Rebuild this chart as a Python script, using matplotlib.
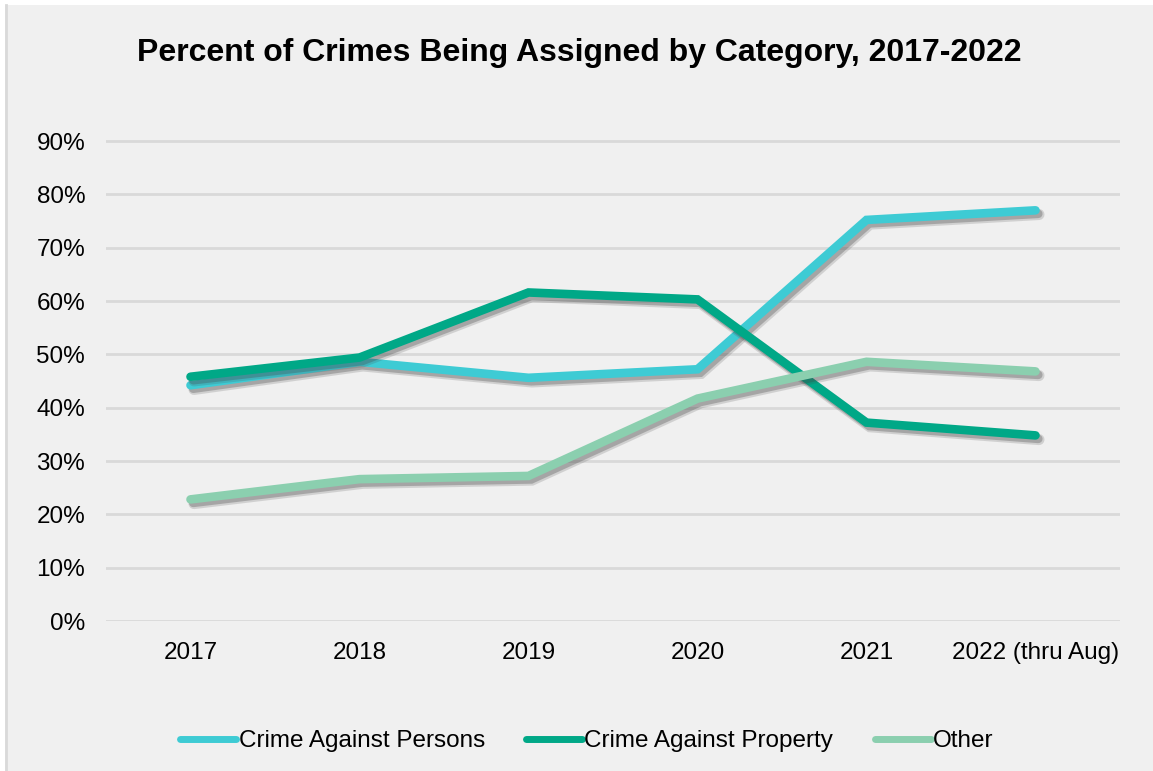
import matplotlib.pyplot as plt
import matplotlib.patheffects as pe
from matplotlib.patches import Rectangle
from matplotlib.ticker import FuncFormatter

plt.rcParams['font.family'] = ['Liberation Sans', 'DejaVu Sans']

years = ['2017', '2018', '2019', '2020', '2021', '2022 (thru Aug)']
persons = [44.2, 48.6, 45.6, 47.2, 75.2, 77.0]
property_ = [45.8, 49.4, 61.6, 60.3, 37.2, 34.8]
other = [22.8, 26.6, 27.2, 41.7, 48.6, 46.8]

series = [
    ('Crime Against Persons', persons, '#3ECBD4'),
    ('Crime Against Property', property_, '#00A887'),
    ('Other', other, '#8BCFAF'),
]

bg = '#F0F0F0'
fig = plt.figure(figsize=(11.53, 7.71), dpi=100, facecolor='white')

# gray panel behind everything, white strip on top and a thin left edge
panel = Rectangle((5 / 1153, 0), 1 - 5 / 1153, 1 - 5 / 771, transform=fig.transFigure,
                  facecolor=bg, edgecolor='none', zorder=-10)
fig.patches.append(panel)
fig.add_artist(plt.Line2D([6 / 1153, 6 / 1153], [0, 1 - 5 / 771], transform=fig.transFigure,
                          color='#D9D9D9', lw=2, zorder=-5))

ax = fig.add_axes([106 / 1153, 1 - 621 / 771, (1120 - 106) / 1153, (621 - 141) / 771 * 10 / 9])
ax.set_facecolor(bg)

x = list(range(len(years)))
# soft drop shadow: a couple of offset layers under each line
shadow = [pe.SimpleLineShadow(offset=(2.5, -3), shadow_color='#444444', alpha=0.18, linewidth=8),
          pe.SimpleLineShadow(offset=(2, -2.5), shadow_color='#444444', alpha=0.3),
          pe.Normal()]
for name, vals, color in series:
    ax.plot(x, vals, color=color, lw=6.2, solid_capstyle='round', solid_joinstyle='miter',
            label=name, path_effects=shadow)

ax.set_xlim(-0.5, 5.5)
ax.set_ylim(0, 100)
ax.set_yticks(range(0, 100, 10))
ax.yaxis.set_major_formatter(FuncFormatter(lambda v, p: f'{int(v)}%'))
ax.set_xticks(x)
ax.set_xticklabels(years)
ax.tick_params(axis='both', length=0, labelsize=17.5, colors='black')
ax.tick_params(axis='y', pad=15)
ax.tick_params(axis='x', pad=15)
ax.grid(axis='y', color='#D9D9D9', lw=2)
ax.set_axisbelow(True)
for s in ax.spines.values():
    s.set_visible(False)

fig.text(0.502, 1 - 53 / 771, 'Percent of Crimes Being Assigned by Category, 2017-2022',
         ha='center', va='center', fontsize=23, fontweight='bold')

leg = fig.legend(loc='center', bbox_to_anchor=(0.509, 1 - 741 / 771), ncol=3, frameon=False,
                 fontsize=17.5, handlelength=2.3, handletextpad=0.1, columnspacing=1.7)
for line in leg.get_lines():
    line.set_linewidth(5)
    line.set_solid_capstyle('round')
    line.set_path_effects([])

fig.savefig('out.png', dpi=100, facecolor=fig.get_facecolor())
